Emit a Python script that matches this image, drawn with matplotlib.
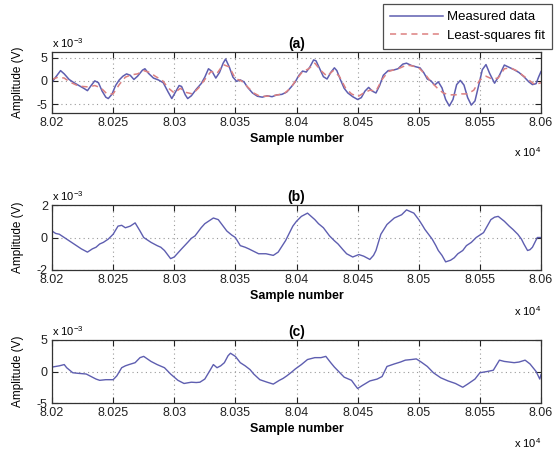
import matplotlib
matplotlib.use('Agg')
import matplotlib.pyplot as plt
import numpy as np

plt.rcParams['font.family'] = ['Liberation Sans', 'DejaVu Sans']
plt.rcParams['mathtext.fontset'] = 'custom'
plt.rcParams['mathtext.rm'] = 'Liberation Sans'

# Panel (a): measured signal and least-squares fit (amplitude in units of 1e-3 V)
a_samples = [80200, 80203, 80207, 80210, 80214, 80218, 80222, 80226, 80229, 80232,
             80235, 80238, 80241, 80244, 80246, 80249, 80252, 80255, 80258, 80261,
             80264, 80267, 80270, 80274, 80276, 80279, 80283, 80287, 80291, 80295,
             80298, 80301, 80304, 80306, 80309, 80311, 80314, 80318, 80322, 80325,
             80328, 80331, 80334, 80337, 80340, 80342, 80345, 80348, 80351, 80354,
             80357, 80360, 80364, 80368, 80372, 80376, 80380, 80384, 80388, 80392,
             80396, 80399, 80402, 80405, 80408, 80411, 80414, 80416, 80419, 80422,
             80425, 80428, 80431, 80433, 80436, 80439, 80442, 80446, 80450, 80453,
             80456, 80459, 80462, 80465, 80468, 80471, 80475, 80479, 80483, 80487,
             80490, 80494, 80498, 80501, 80504, 80507, 80510, 80513, 80516, 80519,
             80522, 80525, 80528, 80531, 80534, 80537, 80540, 80543, 80546, 80549,
             80552, 80555, 80558, 80562, 80566, 80570, 80574, 80578, 80582, 80586,
             80590, 80593, 80596, 80598, 80600]
a_measured = [-0.3, 0.8, 2.2, 1.5, 0.3, -0.4, -1.0, -1.6, -2.1, -1.0,
              0.0, -0.4, -2.2, -3.5, -3.8, -2.9, -1.0, 0.2, 1.0, 1.5,
              1.2, 0.3, 1.0, 2.3, 2.6, 1.6, 0.6, 0.2, -0.4, -2.4,
              -3.8, -2.4, -1.0, -1.2, -3.0, -3.8, -3.2, -1.8, -0.6, 0.8,
              2.6, 2.0, 0.6, 1.8, 3.8, 4.7, 3.0, 0.8, -0.1, 0.2,
              -0.2, -1.4, -2.6, -3.3, -3.5, -3.2, -3.4, -3.0, -2.9, -2.4,
              -1.2, -0.2, 1.2, 2.1, 1.9, 3.0, 4.5, 4.3, 2.6, 0.9,
              0.4, 1.8, 2.8, 2.2, 0.2, -1.6, -2.6, -3.4, -4.0, -3.6,
              -2.2, -1.4, -2.2, -2.6, -1.0, 1.2, 2.2, 2.3, 2.6, 3.6,
              3.8, 3.3, 3.0, 2.8, 1.8, 0.4, 0.0, -0.9, -0.2, -1.5,
              -4.0, -5.4, -4.0, -0.8, 0.1, -0.9, -3.6, -5.2, -4.3, -1.0,
              2.4, 3.5, 1.6, -0.5, 1.2, 3.4, 2.9, 2.4, 1.8, 0.9,
              -0.2, -0.8, -0.6, 0.8, 2.0]

fit_samples = [80200, 80205, 80210, 80215, 80220, 80225, 80230, 80235, 80240, 80245,
               80250, 80255, 80260, 80265, 80270, 80275, 80280, 80285, 80290, 80295,
               80300, 80305, 80310, 80315, 80320, 80325, 80330, 80335, 80340, 80345,
               80350, 80355, 80360, 80365, 80370, 80375, 80380, 80385, 80390, 80395,
               80400, 80405, 80410, 80415, 80420, 80425, 80430, 80435, 80440, 80445,
               80450, 80455, 80460, 80465, 80470, 80475, 80480, 80485, 80490, 80495,
               80500, 80505, 80510, 80515, 80520, 80525, 80530, 80535, 80540, 80545,
               80550, 80555, 80560, 80565, 80570, 80575, 80580, 80585, 80590, 80595,
               80600]
a_fit = [0.3, 0.8, 0.6, -0.3, -0.9, -1.2, -1.3, -1.0, -1.5, -2.8,
         -2.8, -0.8, 0.8, 1.3, 1.5, 2.2, 1.8, 0.9, 0.2, -1.5,
         -2.6, -1.6, -2.5, -2.8, -1.5, 0.3, 2.0, 1.6, 3.5, 3.0,
         0.5, 0.0, -1.3, -2.6, -3.3, -3.3, -3.2, -3.0, -2.7, -1.6,
         0.3, 2.0, 2.6, 3.8, 2.2, 1.0, 2.2, 1.0, -1.5, -2.8,
         -3.4, -2.6, -2.0, -2.2, 0.3, 2.0, 2.4, 2.8, 3.4, 3.2,
         2.8, 1.5, -0.2, -1.5, -2.6, -3.0, -3.0, -2.8, -2.8, -2.0,
         0.2, 1.0, 0.4, 0.6, 2.6, 2.8, 2.2, 1.2, 0.2, -0.8,
         -0.4]

# Panel (b)
b_samples = [80200, 80203, 80206, 80210, 80213, 80217, 80220, 80224, 80229, 80233,
             80236, 80239, 80242, 80246, 80250, 80254, 80257, 80260, 80264, 80268,
             80272, 80275, 80278, 80281, 80286, 80289, 80292, 80297, 80300, 80303,
             80306, 80311, 80314, 80317, 80322, 80325, 80328, 80332, 80336, 80340,
             80343, 80347, 80350, 80354, 80358, 80361, 80365, 80369, 80375, 80381,
             80385, 80388, 80391, 80394, 80397, 80400, 80404, 80409, 80412, 80415,
             80418, 80422, 80427, 80431, 80434, 80438, 80441, 80446, 80451, 80455,
             80460, 80463, 80465, 80467, 80469, 80474, 80477, 80480, 80486, 80490,
             80493, 80496, 80500, 80503, 80505, 80508, 80511, 80514, 80516, 80519,
             80522, 80526, 80529, 80532, 80536, 80539, 80543, 80547, 80550, 80553,
             80556, 80559, 80562, 80565, 80570, 80574, 80577, 80581, 80584, 80586,
             80589, 80591, 80593, 80595, 80597, 80600]
b_values = [0.4, 0.25, 0.2, 0.0, -0.15, -0.35, -0.5, -0.7, -0.9, -0.7,
            -0.6, -0.4, -0.3, -0.1, 0.2, 0.7, 0.75, 0.6, 0.7, 0.9,
            0.4, 0.0, -0.15, -0.3, -0.5, -0.6, -0.8, -1.3, -1.2, -0.95,
            -0.7, -0.3, -0.05, 0.1, 0.6, 0.85, 1.0, 1.2, 1.1, 0.7,
            0.4, 0.15, 0.0, -0.5, -0.6, -0.7, -0.85, -1.0, -1.0, -1.1,
            -0.9, -0.55, -0.2, 0.25, 0.7, 1.0, 1.3, 1.5, 1.3, 1.1,
            0.85, 0.6, 0.1, -0.2, -0.4, -0.75, -1.0, -1.2, -1.05, -1.15,
            -1.35, -1.1, -0.8, -0.3, 0.2, 0.8, 1.0, 1.2, 1.4, 1.7,
            1.6, 1.5, 1.1, 0.75, 0.5, 0.2, -0.1, -0.5, -0.8, -1.1,
            -1.5, -1.4, -1.25, -1.0, -0.8, -0.5, -0.3, 0.0, 0.15, 0.3,
            0.7, 1.1, 1.25, 1.3, 1.0, 0.7, 0.5, 0.2, -0.1, -0.4,
            -0.8, -0.75, -0.6, -0.3, 0.0, 0.0]

# Panel (c)
c_samples = [80200, 80203, 80206, 80210, 80212, 80217, 80222, 80228, 80233, 80236,
             80239, 80244, 80250, 80253, 80257, 80260, 80263, 80268, 80272, 80275,
             80278, 80281, 80286, 80292, 80297, 80300, 80303, 80308, 80311, 80314,
             80318, 80321, 80325, 80329, 80332, 80335, 80338, 80341, 80344, 80346,
             80350, 80354, 80358, 80362, 80365, 80370, 80373, 80376, 80381, 80386,
             80389, 80392, 80396, 80399, 80404, 80409, 80415, 80420, 80424, 80428,
             80431, 80434, 80439, 80445, 80448, 80450, 80454, 80460, 80466, 80470,
             80474, 80480, 80485, 80489, 80494, 80498, 80502, 80507, 80512, 80518,
             80524, 80530, 80536, 80540, 80546, 80550, 80556, 80561, 80566, 80570,
             80574, 80578, 80582, 80587, 80591, 80596, 80598, 80599, 80600]
c_values = [0.7, 0.8, 0.9, 1.1, 0.6, -0.2, -0.3, -0.4, -0.9, -1.2,
            -1.4, -1.3, -1.3, -0.7, 0.6, 0.9, 1.1, 1.4, 2.2, 2.4,
            2.0, 1.6, 1.1, 0.6, -0.4, -0.9, -1.4, -1.9, -1.8, -1.7,
            -1.75, -1.7, -1.2, 0.1, 1.1, 0.6, 0.9, 1.4, 2.5, 2.9,
            2.4, 1.4, 0.9, 0.3, -0.4, -1.3, -1.5, -1.7, -2.0, -1.4,
            -1.1, -0.7, -0.1, 0.4, 1.1, 1.9, 2.2, 2.2, 2.4, 1.4,
            0.7, 0.1, -0.9, -1.4, -2.2, -2.7, -2.2, -1.5, -1.2, -0.8,
            0.8, 1.2, 1.5, 1.8, 1.9, 2.0, 1.5, 0.8, -0.2, -1.0,
            -1.5, -1.9, -2.5, -2.0, -1.2, -0.2, 0.0, 0.2, 1.8, 1.6,
            1.5, 1.4, 1.5, 1.8, 1.2, 0.0, -0.8, -1.2, -0.5]

x_ticks = [8.02, 8.025, 8.03, 8.035, 8.04, 8.045, 8.05, 8.055, 8.06]
x_ticklabels = ['8.02', '8.025', '8.03', '8.035', '8.04', '8.045', '8.05', '8.055', '8.06']

measured_color = '#5e5eb0'
fit_color = '#dc8080'

fig = plt.figure(figsize=(5.58, 4.49), dpi=100)

W = 558.0
H = 449.0
left = 52 / W
width = 489 / W


def make_axes(top_px, bottom_px):
    return fig.add_axes([left, 1 - bottom_px / H, width, (bottom_px - top_px) / H])


def style_axes(ax, title, ylim, yticks):
    ax.set_xlim(8.02, 8.06)
    ax.set_ylim(*ylim)
    ax.set_xticks(x_ticks)
    ax.set_xticklabels(x_ticklabels)
    ax.set_yticks(yticks)
    ax.set_yticklabels([str(t) for t in yticks])
    ax.tick_params(direction='in', length=4, width=0.8, top=True, right=True,
                   labelsize=9, pad=3, colors='#222222')
    ax.grid(True, linestyle=(0, (1, 3)), color='#9a9a9a', linewidth=0.8)
    for sp in ax.spines.values():
        sp.set_color('#333333')
        sp.set_linewidth(0.9)
    ax.set_title(title, fontsize=10, fontweight='bold', pad=3)
    ax.set_xlabel('Sample number', fontsize=9, fontweight='bold', labelpad=3)
    ax.set_ylabel('Amplitude (V)', fontsize=8.5, labelpad=9)
    ax.text(0.0, 1.03, r'x 10$^{\mathregular{-3}}$', transform=ax.transAxes,
            fontsize=8, ha='left', va='bottom')
    ax.text(1.0, -0.52, r'x 10$^{\mathregular{4}}$', transform=ax.transAxes,
            fontsize=8, ha='right', va='top')


ax_a = make_axes(52, 113)
ax_a.plot(np.array(a_samples) / 1e4, a_measured, color=measured_color, lw=1.1,
          label='Measured data')
ax_a.plot(np.array(fit_samples) / 1e4, a_fit, color=fit_color, lw=1.1,
          linestyle=(0, (4, 3)), label='Least-squares fit')
style_axes(ax_a, '(a)', (-6.9, 6.2), [-5, 0, 5])

ax_b = make_axes(205, 270)
ax_b.plot(np.array(b_samples) / 1e4, b_values, color=measured_color, lw=1.0)
style_axes(ax_b, '(b)', (-2, 2), [-2, 0, 2])

ax_c = make_axes(340, 403)
ax_c.plot(np.array(c_samples) / 1e4, c_values, color=measured_color, lw=1.0)
style_axes(ax_c, '(c)', (-5, 5), [-5, 0, 5])

leg = fig.legend(loc='upper right', bbox_to_anchor=(552 / W, 1 - 4 / H),
                 fontsize=9.5, handlelength=4.0, frameon=True, fancybox=False,
                 borderpad=0.55, labelspacing=0.45, handletextpad=0.3,
                 borderaxespad=0.0)
leg.get_frame().set_edgecolor('#222222')
leg.get_frame().set_linewidth(0.9)

fig.savefig('out.png', dpi=100)
plt.close(fig)
